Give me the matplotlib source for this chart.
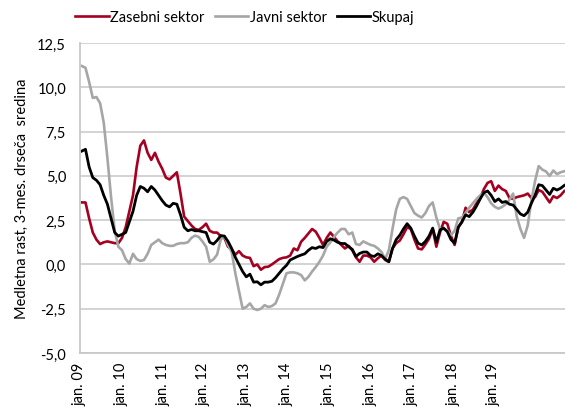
import numpy as np
import matplotlib
matplotlib.use('Agg')
import matplotlib.pyplot as plt
from matplotlib.ticker import FuncFormatter

plt.rcParams['font.family'] = ['Lato', 'DejaVu Sans']

# mesečni podatki, jan. 2009 - jan. 2020
zasebni = [3.5, 3.5, 2.6, 1.8, 1.4, 1.15, 1.25, 1.3, 1.25, 1.2,
           1.2, 1.5, 2.1, 3.0, 3.9, 5.5, 6.7, 7.0, 6.3, 5.9,
           6.3, 5.8, 5.4, 4.9, 4.8, 5.0, 5.2, 4.0, 2.7, 2.45,
           2.2, 2.0, 1.95, 2.1, 2.3, 1.9, 1.8, 1.8, 1.6, 1.5,
           1.0, 0.85, 0.55, 0.75, 0.5, 0.4, 0.37, -0.1, 0.0, -0.3,
           -0.15, -0.13, 0.0, 0.15, 0.3, 0.37, 0.4, 0.5, 0.9, 0.8,
           1.28, 1.5, 1.75, 2.0, 1.85, 1.5, 1.1, 1.5, 1.8, 1.55,
           1.3, 1.1, 0.9, 1.05, 0.8, 0.4, 0.15, 0.5, 0.5, 0.4,
           0.15, 0.35, 0.5, 0.25, 0.15, 0.9, 1.2, 1.35, 1.7, 2.1,
           2.0, 1.4, 0.9, 0.85, 1.13, 1.45, 2.0, 1.0, 1.8, 2.4,
           2.3, 1.6, 1.1, 2.1, 2.4, 3.2, 2.95, 3.1, 3.45, 3.75,
           4.25, 4.6, 4.7, 4.15, 4.45, 4.25, 4.15, 3.75, 3.7, 3.8,
           3.85, 3.9, 4.0, 3.75, 3.8, 4.2, 4.1, 3.8, 3.5, 3.85,
           3.75, 3.9, 4.14]
javni = [11.2, 11.1, 10.3, 9.4, 9.45, 9.1, 8.0, 6.0, 3.8, 1.9,
         1.0, 0.8, 0.3, 0.05, 0.6, 0.3, 0.2, 0.25, 0.6, 1.1,
         1.25, 1.4, 1.2, 1.1, 1.05, 1.05, 1.15, 1.2, 1.2, 1.25,
         1.5, 1.63, 1.55, 1.3, 1.0, 0.15, 0.28, 0.55, 1.4, 1.6,
         1.1, 0.7, -0.5, -1.5, -2.5, -2.4, -2.2, -2.5, -2.57, -2.5,
         -2.3, -2.4, -2.35, -2.2, -1.7, -1.1, -0.5, -0.45, -0.45, -0.5,
         -0.6, -0.9, -0.7, -0.4, -0.15, 0.15, 0.5, 1.0, 1.25, 1.55,
         1.8, 2.0, 2.0, 1.7, 1.8, 1.15, 1.1, 1.3, 1.2, 1.1,
         1.05, 0.9, 0.7, 0.3, 0.8, 2.0, 3.1, 3.7, 3.8, 3.7,
         3.3, 2.9, 2.75, 2.65, 2.9, 3.3, 3.5, 2.65, 2.0, 2.0,
         1.9, 1.65, 1.9, 2.6, 2.65, 2.9, 3.2, 3.45, 3.7, 3.9,
         4.05, 3.8, 3.45, 3.25, 3.15, 3.25, 3.4, 3.65, 4.0, 2.7,
         2.0, 1.5, 2.2, 3.6, 4.7, 5.55, 5.35, 5.25, 5.0, 5.3,
         5.1, 5.2, 5.26]
skupaj = [6.4, 6.5, 5.5, 4.9, 4.75, 4.5, 3.9, 3.4, 2.6, 1.8,
          1.6, 1.7, 1.8, 2.4, 3.0, 3.9, 4.4, 4.3, 4.1, 4.4,
          4.2, 3.9, 3.6, 3.35, 3.25, 3.45, 3.4, 2.8, 2.1, 1.9,
          1.97, 1.9, 1.9, 1.85, 1.8, 1.25, 1.15, 1.35, 1.63, 1.6,
          1.3, 0.9, 0.4, 0.0, -0.4, -0.7, -0.55, -1.0, -0.98, -1.15,
          -1.0, -1.0, -0.95, -0.75, -0.5, -0.25, -0.05, 0.25, 0.35, 0.45,
          0.53, 0.6, 0.8, 0.95, 0.9, 1.0, 0.95, 1.3, 1.45, 1.37,
          1.25, 1.18, 1.18, 1.0, 0.85, 0.45, 0.62, 0.7, 0.7, 0.5,
          0.45, 0.6, 0.5, 0.3, 0.15, 0.9, 1.4, 1.65, 2.0, 2.3,
          2.05, 1.6, 1.2, 1.1, 1.3, 1.6, 2.05, 1.25, 1.95, 2.05,
          1.85, 1.4, 1.2, 2.1, 2.4, 2.8, 2.7, 2.95, 3.3, 3.7,
          4.05, 4.15, 3.9, 3.55, 3.7, 3.5, 3.55, 3.4, 3.35, 3.1,
          2.85, 2.75, 2.95, 3.45, 3.9, 4.5, 4.45, 4.2, 3.95, 4.3,
          4.2, 4.3, 4.46]

oznake = ['jan. 09', 'jan. 10', 'jan. 11', 'jan. 12', 'jan. 13', 'jan. 14',
          'jan. 15', 'jan. 16', 'jan. 17', 'jan. 18', 'jan. 19']
# polozaji oznak na osi (kot na sliki)
poz_oznak = [-0.5, 10.9, 22.3, 33.4, 44.8, 56.1, 67.5, 79.0, 90.1, 101.6, 112.6]

x = np.arange(len(skupaj))

fig = plt.figure(figsize=(5.65, 4.14), dpi=100)
ax = fig.add_axes([80 / 565, 1 - 354 / 414, 485 / 565, 310 / 414])

ax.plot(x, zasebni, color='#a50021', lw=1.9, label='Zasebni sektor')
ax.plot(x, javni, color='#a6a6a6', lw=1.9, label='Javni sektor')
ax.plot(x, skupaj, color='black', lw=2.0, label='Skupaj')

ax.set_xlim(-0.3, 132.2)
ax.set_ylim(-5, 12.5)
ax.set_yticks(np.arange(-5, 12.6, 2.5))
ax.yaxis.set_major_formatter(FuncFormatter(lambda v, p: f'{v:.1f}'.replace('.', ',')))
ax.set_xticks(poz_oznak)
ax.set_xticklabels(oznake, rotation=90)
ax.tick_params(axis='both', length=0, labelsize=10.5, colors='black')
ax.tick_params(axis='y', pad=10)
ax.tick_params(axis='x', pad=6)

ax.grid(axis='y', color='#d0d0d0', lw=1.3)
ax.set_axisbelow(True)
for s in ['top', 'right']:
    ax.spines[s].set_visible(False)
for s in ['left', 'bottom']:
    ax.spines[s].set_color('#c8c8c8')
    ax.spines[s].set_linewidth(1.3)

ax.set_ylabel('Medletna rast, 3-mes. drseča  sredina', fontsize=10.5, labelpad=6)

fig.legend(loc='center left', bbox_to_anchor=(75 / 565, 1 - 18 / 414), ncol=3,
           frameon=False, fontsize=10.5, handlelength=2.3, handletextpad=0.1,
           columnspacing=0.7, borderaxespad=0, borderpad=0)

fig.savefig('out.png', dpi=100)
